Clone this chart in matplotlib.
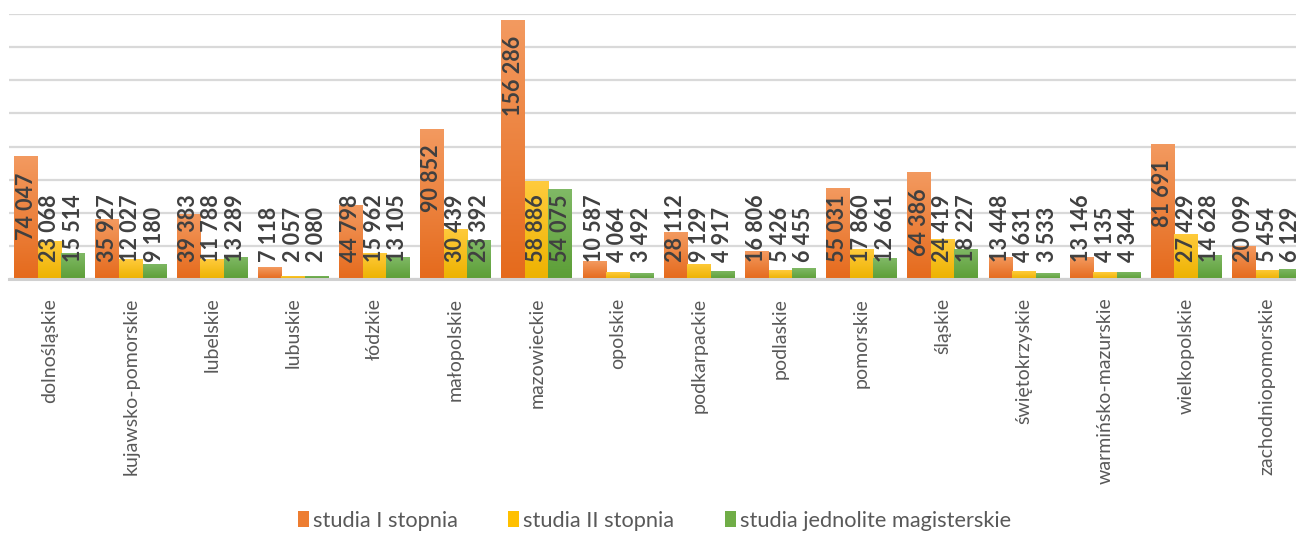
import numpy as np
import matplotlib
matplotlib.use('Agg')
import matplotlib.pyplot as plt
from matplotlib.colors import LinearSegmentedColormap
from matplotlib.patches import Patch

plt.rcParams['font.family'] = ['Lato', 'DejaVu Sans']

regions = ['dolnośląskie', 'kujawsko-pomorskie', 'lubelskie', 'lubuskie', 'łódzkie',
           'małopolskie', 'mazowieckie', 'opolskie', 'podkarpackie', 'podlaskie',
           'pomorskie', 'śląskie', 'świętokrzyskie', 'warmińsko-mazurskie',
           'wielkopolskie', 'zachodniopomorskie']
stopien1 = [74047, 35927, 39383, 7118, 44798, 90852, 156286, 10587, 28112, 16806,
            55031, 64386, 13448, 13146, 81691, 20099]
stopien2 = [23068, 12027, 11788, 2057, 15962, 30439, 58886, 4064, 9129, 5426,
            17860, 24419, 4631, 4135, 27429, 5454]
jednolite = [15514, 9180, 13289, 2080, 13105, 23392, 54075, 3492, 4917, 6455,
             12661, 18227, 3533, 4344, 14628, 6129]
series_names = ['studia I stopnia', 'studia II stopnia', 'studia jednolite magisterskie']

# (top colour, bottom colour, legend colour)
colors = [('#F39A60', '#E56A1C', '#ED7D31'),
          ('#FFCB3D', '#EDB200', '#FFC000'),
          ('#80B966', '#5C9E36', '#70AD47')]

W, H = 1296, 533
fig = plt.figure(figsize=(W / 100, H / 100), dpi=100)
# plot area runs a bit past the right edge (cropped in the original)
ax = fig.add_axes([9 / W, (H - 279) / H, 1299 / W, (279 - 14) / H])

x = np.arange(len(regions))
bw = 0.29
grad = np.linspace(0, 1, 256).reshape(-1, 1)

for i, vals in enumerate([stopien1, stopien2, jednolite]):
    top, bot, _ = colors[i]
    cmap = LinearSegmentedColormap.from_list('g%d' % i, [bot, top])
    bars = ax.bar(x + (i - 1) * bw, vals, bw, color='none', edgecolor='none', zorder=2)
    for b in bars:
        im = ax.imshow(grad, extent=[b.get_x(), b.get_x() + b.get_width(), 0, b.get_height()],
                       origin='lower', cmap=cmap, aspect='auto', zorder=2)
        im.set_clip_path(b)

ax.set_xlim(-0.5, len(regions) - 0.5)
ax.set_ylim(0, 160000)
ax.set_yticks(np.arange(0, 160001, 20000))
ax.yaxis.grid(True, color='#D9D9D9', linewidth=1.6)
ax.set_axisbelow(True)
for s in ['left', 'right', 'top']:
    ax.spines[s].set_visible(False)
ax.spines['bottom'].set_color('#D0D0D0')
ax.spines['bottom'].set_linewidth(2.2)
ax.spines['bottom'].set_zorder(3)
ax.tick_params(axis='y', left=False, labelleft=False)
ax.tick_params(axis='x', bottom=False, pad=10)
ax.set_xticks(x)
ax.set_xticklabels(regions, rotation=90, fontsize=14, color='#595959')

# value labels: inside end, but never lower than a floor just above the axis
fig.canvas.draw()
renderer = fig.canvas.get_renderer()
floor_px = 17
pad_px = 16
base_px = ax.transData.transform((0, 0))[1]
for i, vals in enumerate([stopien1, stopien2, jednolite]):
    for j, v in enumerate(vals):
        xc = j + (i - 1) * bw
        t = ax.text(xc, 0, '{:,}'.format(v).replace(',', ' '), rotation=90,
                    ha='center', va='bottom', fontsize=15.5, fontweight='bold',
                    color='#404040', zorder=4)
        h = t.get_window_extent(renderer).height
        top_px = ax.transData.transform((xc, v))[1]
        y_px = max(base_px + floor_px, top_px - pad_px - h)
        t.set_y(ax.transData.inverted().transform((0, y_px))[1])

handles = [Patch(facecolor=c[2], edgecolor='none') for c in colors]
fig.legend(handles, series_names, loc='center', bbox_to_anchor=(0.505, 1 - 521 / H),
           ncol=3, frameon=False, fontsize=15.7, labelcolor='#595959',
           handlelength=0.5, handleheight=0.75, handletextpad=0.2, columnspacing=2.3,
           borderpad=0.1)

fig.savefig('out.png', dpi=100)
